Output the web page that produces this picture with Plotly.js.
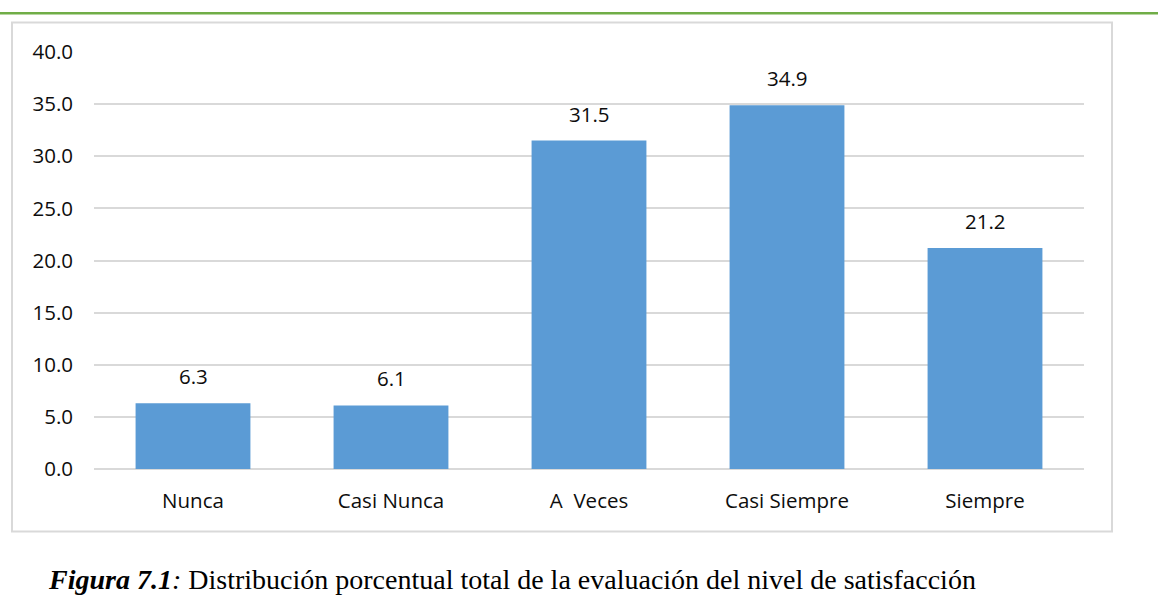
<!DOCTYPE html>
<html>
<head>
<meta charset="utf-8">
<script src="https://cdn.plot.ly/plotly-3.0.1.min.js"></script>
<style>
    html, body { margin: 0; padding: 0; background: #ffffff; }
    #chart { width: 1158px; height: 607px; }
</style>
</head>
<body>
<div id="chart"></div>
<script>
// Chart data
const categories = ['Nunca', 'Casi Nunca', 'A  Veces', 'Casi Siempre', 'Siempre'];
const percentages = [6.3, 6.1, 31.5, 34.9, 21.2];
const yTickValues = [0, 5, 10, 15, 20, 25, 30, 35, 40];
const captionBold = 'Figura 7.1';
const captionText = 'Distribución porcentual total de la evaluación del nivel de satisfacción';

// Plot area in pixels
const W = 1158, H = 607;
const plotLeft = 94, plotRight = 1084, plotTop = 51.5, plotBottom = 469;

// Pixel -> paper helpers for the frame and caption
function px(x) { return (x - plotLeft) / (plotRight - plotLeft); }
function py(y) { return (plotBottom - y) / (plotBottom - plotTop); }

const LabelFont = { family: '"Open Sans", sans-serif', size: 20.5, color: '#0d0d0d' };

var trace = {
    x: categories,
    y: percentages,
    type: 'bar',
    marker: { color: '#5B9BD5' },
    hoverinfo: 'none'
};

// Value labels above bars
var annotations = categories.map((c, i) => ({
    x: c,
    y: percentages[i],
    xref: 'x',
    yref: 'y',
    text: percentages[i].toFixed(1),
    showarrow: false,
    yanchor: 'bottom',
    yshift: 11,
    font: LabelFont
}));

// Caption below the chart
annotations.push({
    xref: 'paper',
    yref: 'paper',
    x: px(46),
    y: py(580),
    xanchor: 'left',
    yanchor: 'middle',
    showarrow: false,
    text: '<b><i>' + captionBold + '</i></b><i>:</i> ' + captionText,
    font: { family: '"Liberation Serif", "Times New Roman", serif', size: 28, color: '#000000' }
});

var layout = {
    width: W,
    height: H,
    margin: { l: plotLeft, r: W - plotRight, t: plotTop, b: H - plotBottom },
    paper_bgcolor: '#ffffff',
    plot_bgcolor: '#ffffff',
    showlegend: false,
    bargap: 0.42,
    xaxis: {
        type: 'category',
        showgrid: false,
        showline: false,
        ticks: '',
        ticklabelstandoff: 17,
        tickfont: LabelFont,
        fixedrange: true
    },
    yaxis: {
        range: [0, 40],
        tickvals: yTickValues,
        ticktext: yTickValues.map(v => v.toFixed(1)),
        showgrid: true,
        gridcolor: '#d9d9d9',
        gridwidth: 2,
        zeroline: true,
        zerolinecolor: '#d9d9d9',
        zerolinewidth: 2,
        showline: false,
        ticks: '',
        ticklabelstandoff: 20,
        tickfont: LabelFont,
        fixedrange: true
    },
    shapes: [
        // green rule at the top
        {
            type: 'line', xref: 'paper', yref: 'paper', layer: 'below',
            x0: px(0), x1: px(W), y0: py(12.7), y1: py(12.7),
            line: { color: '#70AD47', width: 2.5 }
        },
        // chart frame
        {
            type: 'rect', xref: 'paper', yref: 'paper', layer: 'below',
            x0: px(12), x1: px(1112), y0: py(22), y1: py(531.5),
            line: { color: '#d9d9d9', width: 2 }
        }
    ],
    annotations: annotations
};

Plotly.newPlot('chart', [trace], layout, { displayModeBar: false, staticPlot: true });
</script>
</body>
</html>
